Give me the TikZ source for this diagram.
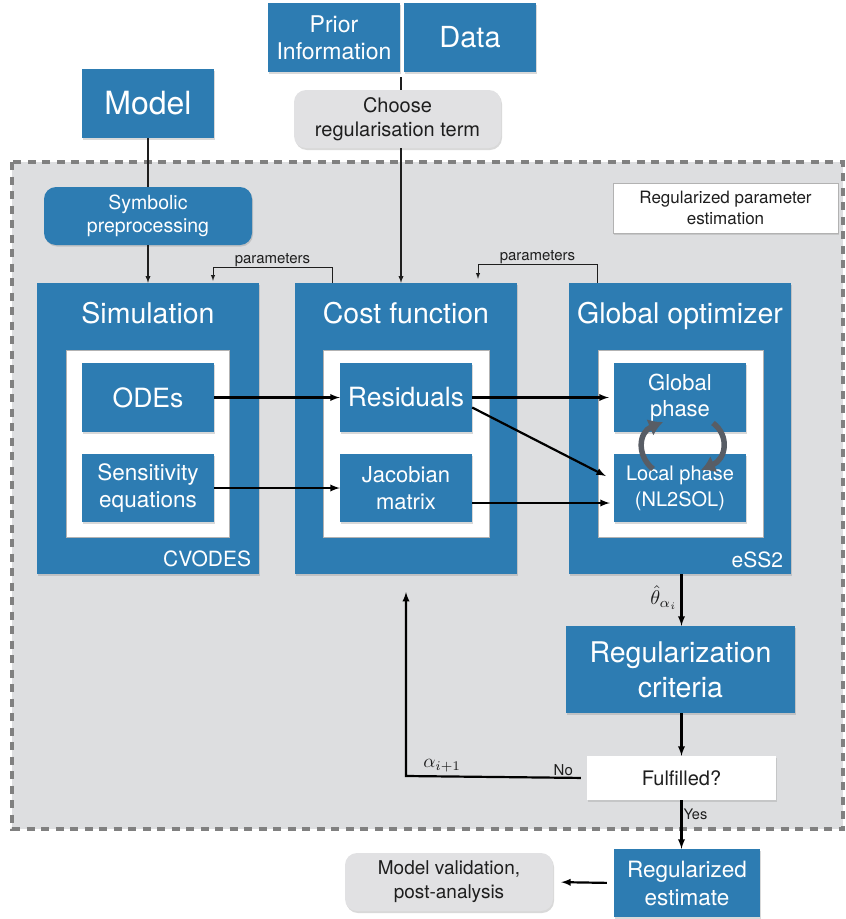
\RequirePackage{fix-cm}
\documentclass[tikz,border=0pt]{standalone}
\usepackage{graphicx}
\usepackage{fontspec}
\setmainfont{TeX Gyre Heros}
\usetikzlibrary{shadows, arrows.meta}
\tikzset{>=latex}
\definecolor{boxblue}{RGB}{45,124,178}
\definecolor{panelgray}{RGB}{221,222,224}
\definecolor{softgray}{RGB}{225,225,227}
\definecolor{dashgray}{RGB}{128,128,128}
\definecolor{cyclegray}{RGB}{88,93,101}
\definecolor{inkdark}{RGB}{30,30,30}
\newcommand{\fsz}[2]{\fontsize{#1}{#2}\selectfont}
\tikzset{
  bluebox/.style 2 args={fill=boxblue, text=white, minimum width=#1pt, minimum height=#2pt, inner sep=0pt, align=center,
    drop shadow={shadow xshift=1pt, shadow yshift=-1.5pt, opacity=.3}},
  greybox/.style 2 args={fill=softgray, text=inkdark, rounded corners=12pt, minimum width=#1pt, minimum height=#2pt, inner sep=0pt, align=center,
    drop shadow={shadow xshift=1pt, shadow yshift=-2pt, opacity=.3}},
  roundblue/.style 2 args={bluebox={#1}{#2}, rounded corners=12pt},
  whitebox/.style 2 args={fill=white, draw=gray!60, line width=.8pt, minimum width=#1pt, minimum height=#2pt, inner sep=0pt, align=center},
  paperbox/.style 2 args={fill=white, text=inkdark, minimum width=#1pt, minimum height=#2pt, inner sep=0pt, align=center,
    drop shadow={shadow xshift=1pt, shadow yshift=-1.5pt, opacity=.25}},
  title/.style={text=white, font=\fsz{28.5}{32}, anchor=base},
  tool/.style={text=white, font=\fsz{21}{24}, inner sep=0pt},
  link/.style={->, line width=2.2pt, black},
  feed/.style={line width=1.3pt, inkdark},
  param/.style={->, line width=1pt, inkdark},
  swap/.style={line width=5.5pt, cyclegray, -{Latex[length=14pt, width=18pt]}},
  tag/.style={text=inkdark, inner sep=1pt}
}
\begin{document}
\begin{tikzpicture}[x=1pt, y=-1pt]
  \useasboundingbox (0,0) rectangle (846,919);
  % dashed frame of the estimation loop
  \draw[fill=panelgray, draw=dashgray, line width=3.5pt, dash pattern=on 8pt off 6.5pt] (12,162) rectangle (843,829);

  \node[bluebox={132}{69}, font=\fsz{23}{27}] (prior) at (334,37.5) {Prior\\Information};
  \node[bluebox={132}{69}, font=\fsz{29}{32}] (data) at (470,37.5) {Data};
  \node[bluebox={132}{69}, font=\fsz{32}{36}] (model) at (148,103.5) {Model};
  \node[greybox={207}{58}, font=\fsz{20}{24}] (choose) at (397.5,119) {Choose\\regularisation term};
  \node[roundblue={208}{58}, font=\fsz{19.5}{23}] (symb) at (148,216) {Symbolic\\preprocessing};
  \node[paperbox={225}{50}, draw=gray!60, line width=.8pt, font=\fsz{17}{21}] (rpe) at (725.5,208) {Regularized parameter\\estimation};

  % simulation
  \node[bluebox={222}{291}] (sim) at (148,428.5) {};
  \node[title] (simtitle) at (148,323) {Simulation};
  \node[whitebox={163}{187}] (simin) at (147.5,443.5) {};
  \node[bluebox={132}{69}, font=\fsz{26.5}{30}] (odes) at (148,397.5) {ODEs};
  \node[bluebox={132}{68}, font=\fsz{22.5}{27}] (sens) at (148,488) {Sensitivity\\equations};
  \node[tool, anchor=base east] (cvodes) at ([xshift=-8pt, yshift=8pt]sim.south east) {CVODES};

  % cost function
  \node[bluebox={222}{291}] (cost) at (406,428.5) {};
  \node[title] (costtitle) at (406,323) {Cost function};
  \node[whitebox={166}{187}] (costin) at (406,443.5) {};
  \node[bluebox={132}{69}, font=\fsz{26.5}{30}] (resid) at (406,397.5) {Residuals};
  \node[bluebox={132}{68}, font=\fsz{22}{27}] (jacob) at (406,488) {Jacobian\\matrix};

  % optimizer
  \node[bluebox={222}{291}] (opt) at (680,428.5) {};
  \node[title] (opttitle) at (680,323) {Global optimizer};
  \node[whitebox={165}{187}] (optin) at (680.5,443.5) {};
  \node[bluebox={132}{69}, font=\fsz{22}{26}] (glob) at (680,397.5) {Global\\phase};
  \node[bluebox={132}{68}, font=\fsz{20}{26}] (loc) at (680,488) {Local phase\\(NL2SOL)};
  \node[tool, anchor=base east] (ess) at ([xshift=-8pt, yshift=7pt]opt.south east) {eSS2};

  \node[bluebox={229}{87}, font=\fsz{28.5}{35}] (crit) at (680.5,669.5) {Regularization\\criteria};
  \node[paperbox={189}{44}, font=\fsz{20}{24}] (fulfil) at (681.5,778) {Fulfilled?};
  \node[bluebox={146}{68}, font=\fsz{22.5}{28}] (regest) at (687,883) {Regularized\\estimate};
  \node[greybox={208}{58}, font=\fsz{19}{24}] (valid) at (449,882) {Model validation,\\post-analysis};

  % inputs
  \coordinate (pd) at (401,77);
  \coordinate (back) at (406,592);
  \coordinate (nocorner) at (406,776);
  \draw[feed] (pd) -- (pd |- choose.north);
  \draw[feed, ->] (choose.south -| pd) -- (pd |- cost.north);
  \draw[feed] (model.south) -- (symb.north);
  \draw[feed, ->] (symb.south) -- (sim.north);
  \draw[param, shorten >=2pt] ([xshift=-74pt]cost.north) -- ++(0,-15) -| node[pos=.25, tag, above, font=\fsz{15}{17}] {parameters} ([xshift=65pt]sim.north);
  \draw[param, shorten >=4pt] ([xshift=-83pt]opt.north) -- ++(0,-18) -| node[pos=.25, tag, above, font=\fsz{15}{17}] {parameters} ([xshift=72pt]cost.north);

  % data flow between blocks
  \draw[link] (odes.east) -- (resid.west);
  \draw[link] (sens.east) -- (jacob.west |- sens.east);
  \draw[link, shorten >=5pt] (resid.east) -- (glob.west);
  \draw[link] ([yshift=-10pt]resid.east) -- ([xshift=-8pt, yshift=12pt]loc.west);
  \draw[link, shorten >=4pt] ([yshift=-15pt]jacob.east) -- ([yshift=-15pt]loc.west);
  \draw[swap] (653,469) .. controls (636,455) and (639,432) .. (663,422);
  \draw[swap] (713,423) .. controls (730,436) and (726,459) .. (701,470);

  % regularization loop
  \draw[link] (opt.south -| fulfil) -- node[pos=.45, left, tag, inner sep=3pt, font=\fsz{10}{12}] {\scalebox{2}{$\hat{\theta}_{\alpha_i}$}} (crit.north -| fulfil);
  \draw[link] (crit.south -| fulfil) -- (fulfil.north);
  \draw[link, shorten <=6pt] (fulfil.west) -- node[pos=.13, above, tag, font=\fsz{15}{17}] {No} node[pos=.8, above, tag, inner sep=3pt, font=\fsz{10}{12}] {\scalebox{1.9}{$\alpha_{i+1}$}} (nocorner) -- (back);
  \draw[link] (fulfil.south) -- node[pos=.3, right, tag, font=\fsz{14.5}{17}] {Yes} (fulfil.south |- regest.north);
  \draw[link, shorten <=7pt, shorten >=8pt] (regest.west) -- (valid.east);
\end{tikzpicture}
\end{document}
